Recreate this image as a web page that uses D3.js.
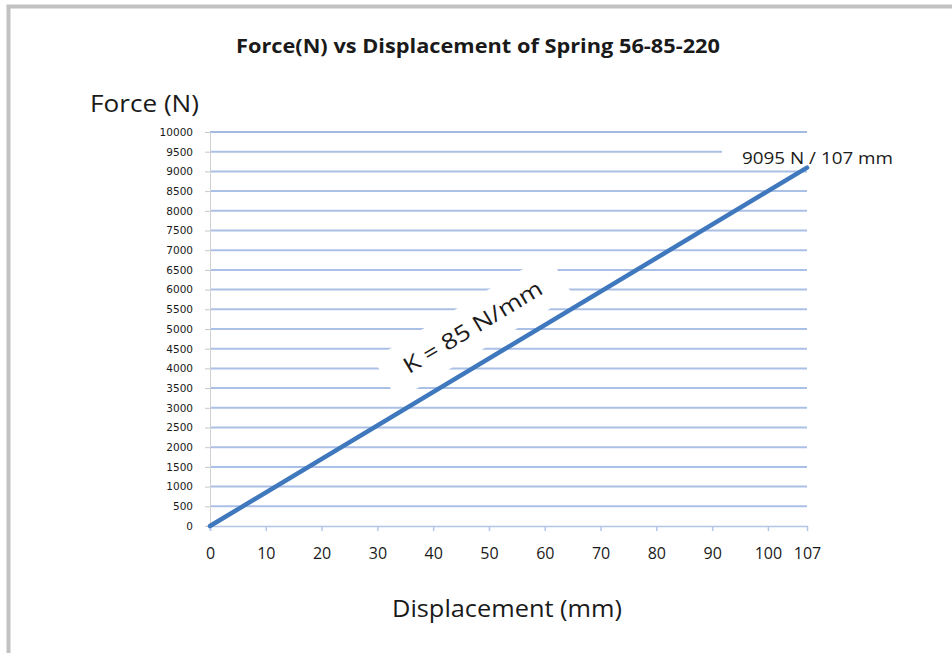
<!DOCTYPE html>
<html>
<head>
<meta charset="utf-8">
<script src="https://cdn.jsdelivr.net/npm/d3@7"></script>
<style>
  body { margin: 0; background: #fff; }
  svg text { font-family: "Open Sans", sans-serif; fill: #1a1a1a; }
</style>
</head>
<body>
<div id="chart"></div>
<script>
"use strict";

// data
var displacement = [0, 107];        // mm
var force = [0, 9095];              // N
var xTicks = [0, 10, 20, 30, 40, 50, 60, 70, 80, 90, 100, 107];
var yTicks = d3.range(0, 10001, 500);
var titleText = "Force(N) vs Displacement of Spring 56-85-220";
var endLabel = "9095 N / 107 mm";
var slopeLabel = "K = 85 N/mm";

var chartWidth = 952, chartHeight = 653;
var marginLeft = 210, marginTop = 132, plotW = 597, plotH = 394;

var svg = d3.select('#chart')
            .append('svg')
            .attr('width', chartWidth)
            .attr('height', chartHeight);

svg.append('rect')
  .attr('x', 0).attr('y', 0)
  .attr('width', chartWidth).attr('height', chartHeight)
  .attr('fill', '#fff');

// gray frame of the chart object (runs off the right and bottom)
svg.append('rect')
  .attr('x', 8.5).attr('y', 6.5)
  .attr('width', 1200).attr('height', 1200)
  .attr('fill', 'none')
  .attr('stroke', '#c2c2c2')
  .attr('stroke-width', 4);

var scaleX = d3.scaleLinear().domain([0, 107]).range([0, plotW]);
var scaleY = d3.scaleLinear().domain([0, 10000]).range([plotH, 0]);

var plot = svg.append('g').attr('transform', 'translate(' + marginLeft + ',' + marginTop + ')');

// horizontal grid
plot.append('g')
  .selectAll('line')
  .data(yTicks.filter(function(d) { return d > 0; }))
  .enter().append('line')
  .attr('x1', 0).attr('x2', plotW)
  .attr('y1', function(d) { return scaleY(d); })
  .attr('y2', function(d) { return scaleY(d); })
  .attr('stroke', function(d) { return d === 10000 ? '#86a3d6' : '#abc0e6'; })
  .attr('stroke-width', function(d) { return d === 10000 ? 1.3 : 2; });

// y axis
var gY = plot.append('g')
  .call(d3.axisLeft(scaleY).tickValues(yTicks).tickSize(5).tickPadding(12).tickFormat(d3.format('d')));
gY.select('.domain').attr('stroke', '#d0d0d0');
gY.selectAll('.tick line').attr('stroke', '#c8c8c8');
gY.selectAll('.tick text')
  .style('font-family', '"DejaVu Sans", sans-serif')
  .style('font-size', '10.5px')
  .attr('fill', '#333');

// x axis
var gX = plot.append('g')
  .attr('transform', 'translate(0,' + plotH + ')')
  .call(d3.axisBottom(scaleX).tickValues(xTicks).tickSize(5).tickPadding(17).tickFormat(d3.format('d')));
gX.select('.domain').attr('stroke', '#b3c6e8').attr('stroke-width', 1.5);
gX.selectAll('.tick line').attr('stroke', '#b3c6e8').attr('stroke-width', 1.5);
gX.selectAll('.tick').filter(function(d) { return d === 107; }).select('line').remove();
gX.selectAll('.tick text')
  .style('font-size', '16px')
  .attr('fill', '#222');

// white box behind end label cuts the grid
var endX = scaleX(displacement[1]), endY = scaleY(force[1]);
plot.append('rect')
  .attr('x', endX - 85).attr('y', endY - 27)
  .attr('width', 180).attr('height', 20)
  .attr('fill', '#fff');

// rotated slope label with its white box
var angle = Math.atan2(scaleY(0) - scaleY(force[1]), scaleX(displacement[1]) - scaleX(0)) * 180 / Math.PI;
var kg = plot.append('g')
  .attr('transform', 'translate(' + scaleX(47.1) + ',' + scaleY(5050) + ') rotate(' + (-angle) + ')');
kg.append('rect')
  .attr('x', -102).attr('y', -24)
  .attr('width', 204).attr('height', 48)
  .attr('fill', '#fff');
kg.append('text')
  .attr('text-anchor', 'middle')
  .attr('dy', '0.35em')
  .attr('textLength', 158)
  .attr('lengthAdjust', 'spacingAndGlyphs')
  .style('font-size', '22px')
  .text(slopeLabel);

// the force line
var line = d3.line()
  .x(function(d) { return scaleX(d[0]); })
  .y(function(d) { return scaleY(d[1]); });

plot.append('path')
  .attr('d', line(d3.zip(displacement, force)))
  .attr('fill', 'none')
  .attr('stroke', '#4078bd')
  .attr('stroke-width', 4.5)
  .attr('stroke-linecap', 'round');

plot.append('text')
  .attr('x', endX + 86).attr('y', endY - 4)
  .attr('text-anchor', 'end')
  .attr('textLength', 151)
  .attr('lengthAdjust', 'spacingAndGlyphs')
  .style('font-size', '17px')
  .text(endLabel);

// titles
svg.append('text')
  .attr('x', 478).attr('y', 53)
  .attr('text-anchor', 'middle')
  .attr('textLength', 484)
  .attr('lengthAdjust', 'spacingAndGlyphs')
  .style('font-size', '19px')
  .style('font-weight', 'bold')
  .text(titleText);

svg.append('text')
  .attr('x', 90).attr('y', 112)
  .attr('textLength', 109)
  .attr('lengthAdjust', 'spacingAndGlyphs')
  .style('font-size', '23px')
  .text('Force (N)');

svg.append('text')
  .attr('x', 507).attr('y', 617)
  .attr('text-anchor', 'middle')
  .attr('textLength', 230)
  .attr('lengthAdjust', 'spacingAndGlyphs')
  .style('font-size', '23px')
  .text('Displacement (mm)');
</script>
</body>
</html>
